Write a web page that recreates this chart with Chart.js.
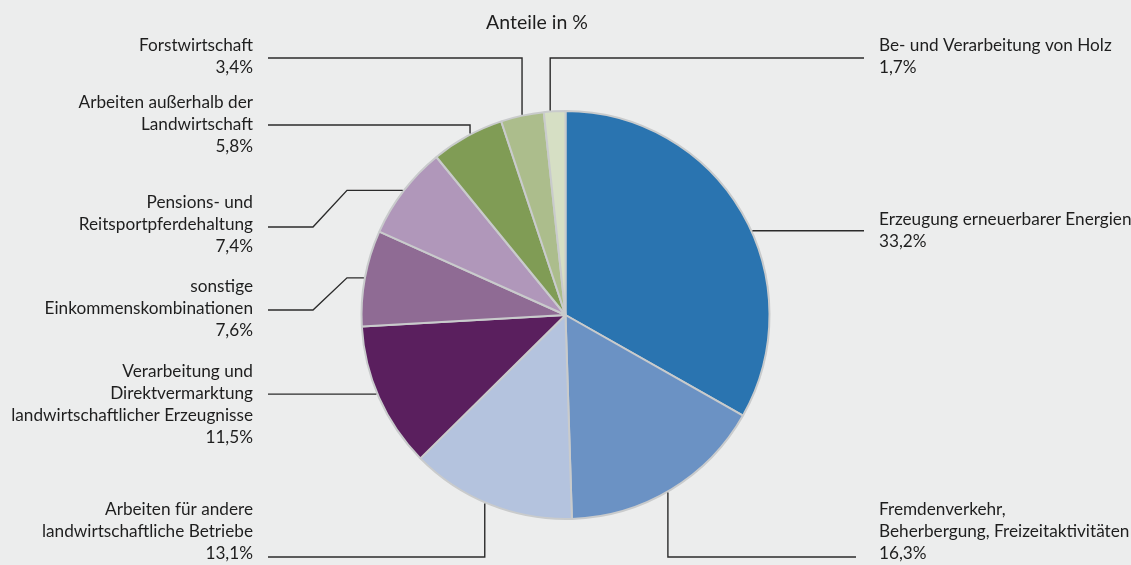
<!DOCTYPE html>
<html>
<head>
<meta charset="utf-8">
<script src="https://cdn.jsdelivr.net/npm/chart.js@4"></script>
<style>
  html, body { margin: 0; padding: 0; background: #eceded; }
  #wrap { width: 1131px; height: 565px; position: relative; }
</style>
</head>
<body>
<div id="wrap"><canvas id="c" width="1131" height="565"></canvas></div>
<script>
// ---- data ----
const title = 'Anteile in %';
const categories = [
  ['Erzeugung erneuerbarer Energien'],
  ['Fremdenverkehr,', 'Beherbergung, Freizeitaktivitäten'],
  ['Arbeiten für andere', 'landwirtschaftliche Betriebe'],
  ['Verarbeitung und', 'Direktvermarktung', 'landwirtschaftlicher Erzeugnisse'],
  ['sonstige', 'Einkommenskombinationen'],
  ['Pensions- und', 'Reitsportpferdehaltung'],
  ['Arbeiten außerhalb der', 'Landwirtschaft'],
  ['Forstwirtschaft'],
  ['Be- und Verarbeitung von Holz']
];
const shares = [33.2, 16.3, 13.1, 11.5, 7.6, 7.4, 5.8, 3.4, 1.7];
const colors = ['#2a74b0', '#6b92c4', '#b4c3de', '#5a1f5e', '#8f6b94', '#b097ba', '#809c55', '#acbd8c', '#d6dfc4'];

// ---- label layout (annotation placement, not data) ----
const layoutCfg = [
  { side: 'R', x: 879, y0: 225, t: 0.55, route: 'h', endX: 864 },
  { side: 'R', x: 879, y0: 515, t: 0.52, route: 'vdown', turnY: 557, endX: 856 },
  { side: 'L', x: 253, y0: 515, t: 0.53, route: 'vdown', turnY: 557, endX: 268 },
  { side: 'L', x: 253, y0: 377, t: 0.53, route: 'h', endX: 268 },
  { side: 'L', x: 253, y0: 292, t: 0.5, route: 'elbow', kinkX: 347, lowX: 313, lowY: 310, endX: 268 },
  { side: 'L', x: 253, y0: 208, t: 0.5, route: 'elbow', kinkX: 347, lowX: 313, lowY: 227, endX: 268 },
  { side: 'L', x: 253, y0: 108, t: 0.55, route: 'vup', turnY: 125, endX: 268 },
  { side: 'L', x: 253, y0: 51, t: 0.5, route: 'vup', turnY: 58, endX: 268 },
  { side: 'R', x: 879, y0: 51, t: 0.3, route: 'vup', turnY: 58, endX: 864 }
];

const FONT = 'Lato, "Open Sans", sans-serif';
const fmt = v => v.toFixed(1).replace('.', ',') + '%';

const labelPlugin = {
  id: 'leaderLabels',
  afterDraw(chart) {
    const ctx = chart.ctx;
    const meta = chart.getDatasetMeta(0);
    ctx.save();
    // title
    ctx.fillStyle = '#1e1e1e';
    ctx.font = '19.5px ' + FONT;
    ctx.textAlign = 'center';
    ctx.textBaseline = 'alphabetic';
    ctx.fillText(title, 537, 29);

    ctx.strokeStyle = '#2b2b2b';
    ctx.lineWidth = 1.4;
    meta.data.forEach((arc, i) => {
      const cfg = layoutCfg[i];
      const p = arc.getProps(['x', 'y', 'startAngle', 'endAngle', 'outerRadius'], true);
      const a = p.startAngle + cfg.t * (p.endAngle - p.startAngle);
      const R = p.outerRadius + 1;
      const px = p.x + R * Math.cos(a);
      const py = p.y + R * Math.sin(a);
      ctx.beginPath();
      if (cfg.route === 'h') {
        ctx.moveTo(px, py);
        ctx.lineTo(cfg.endX, py);
      } else if (cfg.route === 'vdown' || cfg.route === 'vup') {
        ctx.moveTo(px, py);
        ctx.lineTo(px, cfg.turnY);
        ctx.lineTo(cfg.endX, cfg.turnY);
      } else if (cfg.route === 'elbow') {
        ctx.moveTo(px, py);
        ctx.lineTo(cfg.kinkX, py);
        ctx.lineTo(cfg.lowX, cfg.lowY);
        ctx.lineTo(cfg.endX, cfg.lowY);
      }
      ctx.stroke();

      const lines = categories[i].concat([fmt(shares[i])]);
      ctx.font = '17.2px ' + FONT;
      ctx.fillStyle = '#1e1e1e';
      ctx.textAlign = cfg.side === 'L' ? 'right' : 'left';
      lines.forEach((ln, k) => ctx.fillText(ln, cfg.x, cfg.y0 + k * 22));
    });
    ctx.restore();
  }
};

new Chart(document.getElementById('c'), {
  type: 'pie',
  data: {
    labels: categories.map(c => c.join(' ')),
    datasets: [{
      data: shares,
      backgroundColor: colors,
      borderColor: '#c9cbcc',
      borderWidth: 2
    }]
  },
  options: {
    responsive: false,
    animation: false,
    events: [],
    layout: { padding: { top: 110, bottom: 45, left: 0, right: 0 } },
    plugins: {
      legend: { display: false },
      tooltip: { enabled: false },
      title: { display: false }
    }
  },
  plugins: [labelPlugin]
});
</script>
</body>
</html>
